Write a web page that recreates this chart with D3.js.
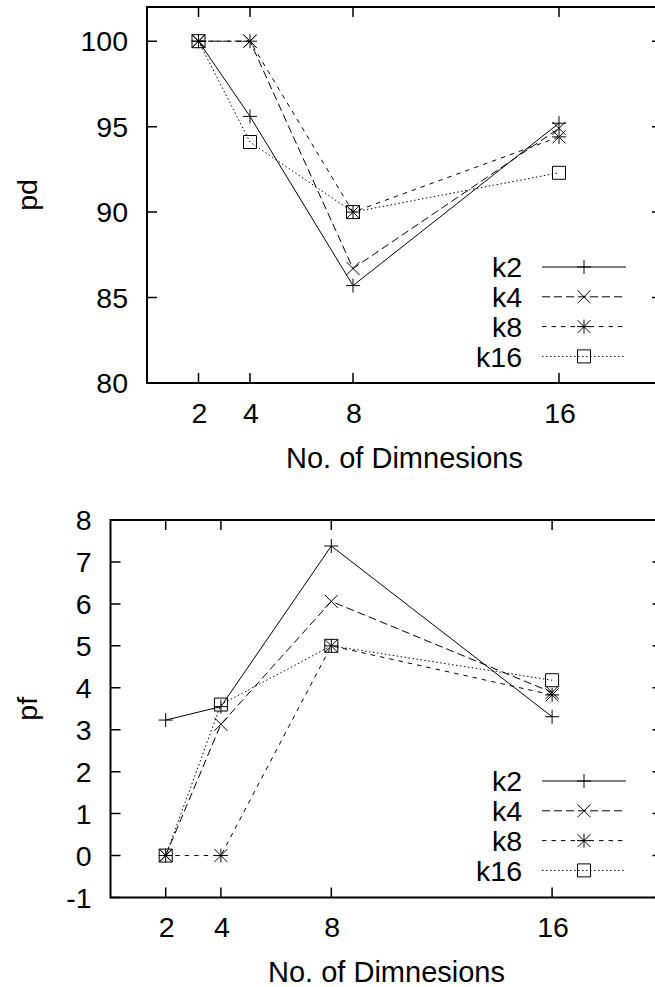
<!DOCTYPE html>
<html>
<head>
<meta charset="utf-8">
<script src="https://cdn.jsdelivr.net/npm/d3@7"></script>
<style>
  body { margin: 0; background: #fff; }
  svg { display: block; font-family: "Liberation Sans", Arial, Helvetica, sans-serif; }
</style>
</head>
<body>
<div id="chart"></div>
<script>
// x values (no. of dimensions) and x tick labels
const dims = [2, 4, 8, 16];
const xTicks = [2, 4, 8, 16];
const seriesNames = ['k2', 'k4', 'k8', 'k16'];

// pd values per series
const pdK2 = [100, 95.6, 85.7, 95.2];
const pdK4 = [100, 100, 86.7, 94.9];
const pdK8 = [100, 100, 90, 94.4];
const pdK16 = [100, 94.1, 90, 92.3];
const pdTicks = [80, 85, 90, 95, 100];

// pf values per series
const pfK2 = [3.23, 3.55, 7.38, 3.31];
const pfK4 = [0, 3.13, 6.06, 3.89];
const pfK8 = [0, 0, 5, 3.83];
const pfK16 = [0, 3.6, 5, 4.18];
const pfTicks = [-1, 0, 1, 2, 3, 4, 5, 6, 7, 8];

const W = 655, H = 987;
const fontSize = 28.5;

// line dash per series (gnuplot style line types)
const dashes = [null, '8,4', '4.5,5', '1.5,2.5'];
const markers = ['plus', 'cross', 'star', 'box'];

const svg = d3.select('#chart').append('svg')
  .attr('width', W)
  .attr('height', H);

// marker path for a given type, centered at 0,0
function markerPath(type) {
  let s = 7, c = 6.5;
  if (type === 'plus') return `M${-s},0H${s}M0,${-s}V${s}`;
  if (type === 'cross') return `M${-c},${-c}L${c},${c}M${-c},${c}L${c},${-c}`;
  if (type === 'star') return `M${-s},0H${s}M0,${-s}V${s}M${-c},${-c}L${c},${c}M${-c},${c}L${c},${-c}`;
  return `M${-c},${-c}H${c}V${c}H${-c}Z`;
}

function drawPanel(cfg) {
  let x = d3.scaleLinear().domain([0, 20]).range([cfg.left, cfg.left + cfg.plotW]),
  y = d3.scaleLinear().domain(cfg.yDomain).range([cfg.bottom, cfg.top]),
  g = svg.append('g');

  // frame
  g.append('rect')
    .attr('x', x(0)).attr('y', y(cfg.yDomain[1]))
    .attr('width', x(20) - x(0)).attr('height', y(cfg.yDomain[0]) - y(cfg.yDomain[1]))
    .attr('fill', 'none').attr('stroke', '#000').attr('stroke-width', 2);

  // inner ticks on all four sides
  let tl = 10;
  g.selectAll('.ytick').data(cfg.yTicks).enter().append('path')
    .attr('d', d => `M${x(0)},${y(d)}h${tl}M${x(20)},${y(d)}h${-tl}`)
    .attr('stroke', '#000').attr('stroke-width', 1.5);
  g.selectAll('.xtick').data(xTicks).enter().append('path')
    .attr('d', d => `M${x(d)},${y(cfg.yDomain[0])}v${-tl}M${x(d)},${y(cfg.yDomain[1])}v${tl}`)
    .attr('stroke', '#000').attr('stroke-width', 1.5);

  // tick labels
  g.selectAll('.ylab').data(cfg.yTicks).enter().append('text')
    .attr('x', x(0) - 19).attr('y', d => y(d))
    .attr('dy', '0.36em')
    .attr('text-anchor', 'end')
    .attr('font-size', fontSize)
    .text(d => d);
  g.selectAll('.xlab').data(xTicks).enter().append('text')
    .attr('x', d => x(d) + 1).attr('y', y(cfg.yDomain[0]) + 39.5)
    .attr('text-anchor', 'middle')
    .attr('font-size', fontSize)
    .text(d => d);

  // axis titles
  g.append('text')
    .attr('x', (x(0) + x(20)) / 2).attr('y', y(cfg.yDomain[0]) + 84.5)
    .attr('text-anchor', 'middle').attr('font-size', fontSize + 0.5)
    .text('No. of Dimnesions');
  g.append('text')
    .attr('transform', `translate(37,${(cfg.top + cfg.bottom) / 2}) rotate(-90)`)
    .attr('text-anchor', 'middle').attr('font-size', fontSize)
    .text(cfg.yTitle);

  let line = d3.line().x((d, i) => x(dims[i])).y(d => y(d));

  // series lines and point markers
  cfg.series.forEach((vals, k) => {
    g.append('path')
      .attr('d', line(vals))
      .attr('fill', 'none').attr('stroke', '#000').attr('stroke-width', 1)
      .attr('stroke-dasharray', dashes[k]);
    g.selectAll('.m' + k).data(vals).enter().append('path')
      .attr('transform', (d, i) => `translate(${x(dims[i])},${y(d)})`)
      .attr('d', markerPath(markers[k]))
      .attr('fill', 'none').attr('stroke', '#000').attr('stroke-width', 1);
  });

  // legend, bottom right
  let lg = g.selectAll('.leg').data(seriesNames).enter().append('g')
    .attr('transform', (d, i) => `translate(0,${cfg.legTop + i * 29.8})`);
  lg.append('text')
    .attr('x', 522).attr('dy', '0.36em')
    .attr('text-anchor', 'end').attr('font-size', fontSize)
    .text(d => d);
  lg.append('path')
    .attr('d', 'M542,0H626')
    .attr('stroke', '#000').attr('stroke-width', 1)
    .attr('stroke-dasharray', (d, i) => dashes[i]);
  lg.append('path')
    .attr('transform', 'translate(584,0)')
    .attr('d', (d, i) => markerPath(markers[i]))
    .attr('fill', 'none').attr('stroke', '#000').attr('stroke-width', 1);
}

drawPanel({
  left: 147, plotW: 515, top: 7, bottom: 383,
  yDomain: [80, 102], yTicks: pdTicks, yTitle: 'pd',
  series: [pdK2, pdK4, pdK8, pdK16],
  legTop: 267
});

drawPanel({
  left: 110.5, plotW: 552, top: 520, bottom: 897.5,
  yDomain: [-1, 8], yTicks: pfTicks, yTitle: 'pf',
  series: [pfK2, pfK4, pfK8, pfK16],
  legTop: 781
});
</script>
</body>
</html>
